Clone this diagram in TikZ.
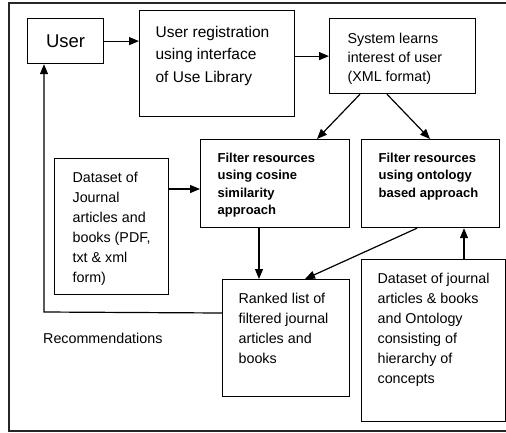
\documentclass[tikz,border=0pt]{standalone}
\usepackage{fontspec}
\setmainfont{Liberation Sans}
\usetikzlibrary{arrows.meta,calc}
\tikzset{
  box/.style={draw=black, line width=1.2pt, anchor=north west, inner sep=0pt, align=left},
  arr/.style={line width=1.2pt, -{Triangle[length=10pt,width=8pt]}},
  ln/.style={line width=1.2pt},
  frame/.style={line width=1.4pt, draw=black!85},
}
\newcommand\regtext{\fontsize{15.5}{22.5}\selectfont}
\newcommand\midtext{\fontsize{14.3}{19}\selectfont}
\newcommand\stdtext{\fontsize{14.3}{20}\selectfont}
\newcommand\boldtext{\fontsize{13}{17.5}\selectfont\bfseries}
\begin{document}
\begin{tikzpicture}[x=1pt,y=-1pt]
\useasboundingbox (0,0) rectangle (506,432);
% outer frame
\draw[frame] (507,3) -- (9,3) -- (9,431) -- (507,431);

\node[box, minimum width=76pt, minimum height=45pt, align=center] (user) at (27,18)
  {\fontsize{18.5}{22}\selectfont User};

\node[box, inner xsep=16pt, inner ysep=10.8pt] (reg) at (139,10)
  {\parbox[c][84.4pt][t]{123pt}{\raggedright\regtext\strut User registration\\using interface\\of Use Library}};

\node[box, inner xsep=18pt, inner ysep=11.8pt] (sys) at (329,18)
  {\parbox[c][51.4pt][t]{110pt}{\raggedright\midtext\strut System learns\\interest of user\\(XML format)}};

\node[box, inner xsep=17pt, inner ysep=10.4pt] (cos) at (200,139)
  {\parbox[c][67.2pt][t]{115pt}{\raggedright\boldtext\strut Filter resources\\using cosine\\similarity\\approach}};

\node[box, inner xsep=17pt, inner ysep=10.4pt] (ont) at (361,139)
  {\parbox[c][67.2pt][t]{104pt}{\raggedright\boldtext\strut Filter resources\\using ontology\\based approach}};

\node[box, inner xsep=18pt, inner ysep=10pt] (dataL) at (54,158)
  {\parbox[c][116pt][t]{78pt}{\raggedright\stdtext\strut Dataset of\\Journal\\articles and\\books (PDF,\\txt \& xml\\form)}};

\node[box, inner xsep=16pt, inner ysep=10pt] (ranked) at (222,279)
  {\parbox[c][97pt][t]{95pt}{\raggedright\stdtext\strut Ranked list of\\filtered journal\\articles and\\books}};

\node[box, inner xsep=16pt, inner ysep=10pt] (dataR) at (361,259)
  {\parbox[c][142pt][t]{112pt}{\raggedright\stdtext\strut Dataset of journal\\articles \& books\\and Ontology\\consisting of\\hierarchy of\\concepts}};

\node[anchor=west, inner sep=0pt] (rec) at (43,338) {\stdtext Recommendations};

% connectors
\draw[arr] (user.east) -- (reg.west |- user.east);
\draw[arr] (reg.east |- sys.west) -- (sys.west);
\draw[arr] ($(sys.south west)+(31,0)$) -- ($(cos.north west)+(117,0)$);
\draw[arr] ($(sys.south west)+(58,0)$) -- ($(ont.north west)+(69,0)$);
\draw[arr] ($(dataL.north east)+(0,31)$) -- ($(cos.north west)+(0,50)$);
\draw[arr] ($(cos.south west)+(59,0)$) -- ($(ranked.north west)+(37,0)$);
\draw[arr] ($(ont.south west)+(56,0)$) -- ($(ranked.north west)+(83,0)$);
\draw[arr] ($(dataR.north west)+(103,0)$) -- ($(ont.south west)+(103,0)$);
\draw[arr] ($(ranked.north west)+(0,34)$) -- (44,312) -- ($(user.south west)+(17,0)$);
\end{tikzpicture}
\end{document}
